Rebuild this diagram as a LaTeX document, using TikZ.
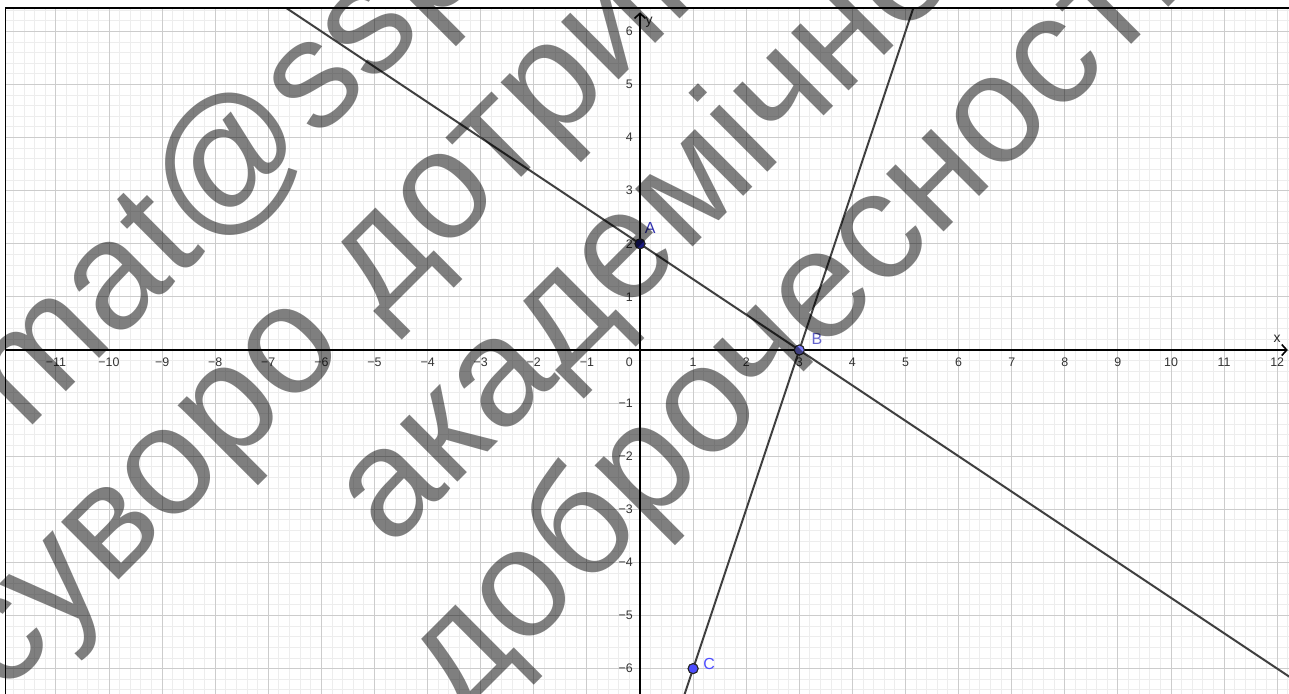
\documentclass[tikz,border=0pt]{standalone}
\usepackage{fontspec}
\setmainfont{Liberation Sans}
\newfontfamily\wmfont{Liberation Sans}
\usetikzlibrary{arrows.meta,calc}
\definecolor{Acol}{RGB}{28,28,128}
\definecolor{Bcol}{RGB}{125,125,255}
\definecolor{Ccol}{RGB}{77,77,255}
\definecolor{Alab}{RGB}{50,50,175}
\definecolor{Blab}{RGB}{100,100,205}
\definecolor{Clab}{RGB}{77,77,255}
\definecolor{linecol}{RGB}{64,64,64}
\begin{document}
\begin{tikzpicture}[x=0.5pt,y=-0.5pt,
  minorgrid/.style={draw=black!7, line width=0.5pt},
  majorgrid/.style={draw=black!20, line width=0.5pt},
  frameline/.style={draw=black, line width=0.9pt},
  axisline/.style={draw=black, line width=0.8pt, -{Straight Barb[length=2.5pt,width=5.5pt]}},
  gline/.style={draw=linecol, line width=1pt},
  xt/.style={font=\fontsize{6.2pt}{7pt}\selectfont, text=black!80, inner sep=0pt, anchor=center},
  yt/.style={font=\fontsize{6.2pt}{7pt}\selectfont, text=black!80, inner sep=0pt, anchor=east},
  axlab/.style={font=\fontsize{7pt}{8pt}\selectfont, text=black!85, inner sep=0pt},
  pt/.style={circle, draw=black!85, line width=0.5pt, minimum size=5pt, inner sep=0pt},
  ptlab/.style={font=\fontsize{8pt}{9pt}\selectfont, inner sep=0pt},
  wm/.style={font=\wmfont\fontsize{77pt}{80pt}\selectfont, text=black, text opacity=0.5,
             inner sep=0pt, rotate=45, anchor=base west}]
\useasboundingbox (0,0) rectangle (1289,693);
\clip (0,0) rectangle (1289,693);
\fill[white] (0,0) rectangle (1289,693);
\begin{scope}[shift={(640,350)}, x=26.55pt, y=26.55pt]
  \begin{scope}
    \clip (-11.95,-6.6) rectangle (12.4,6.435);
    \foreach \i in {-61,...,62} \draw[minorgrid] (\i/5,-6.6) -- (\i/5,6.6);
    \foreach \j in {-33,...,33} \draw[minorgrid] (-12.1,\j/5) -- (12.4,\j/5);
    \foreach \i in {-12,...,12} \draw[majorgrid] (\i,-6.6) -- (\i,6.6);
    \foreach \j in {-6,...,6} \draw[majorgrid] (-12.1,\j) -- (12.4,\j);
    \node[pt, fill=Acol] (A) at (0,2) {};
    \node[pt, fill=Bcol] (B) at (3,0) {};
    \node[pt, fill=Ccol] (C) at (1,-6) {};
    \draw[axisline] (-11.95,0) -- (12.2,0);
    \draw[axisline] (0,-6.6) -- (0,6.36);
    \draw[gline] ($(A.center)!-4.2!(B.center)$) -- ($(A.center)!4.3!(B.center)$);
    \draw[gline] ($(B.center)!1.2!(C.center)$) -- ($(C.center)!2.2!(B.center)$);
  \end{scope}
  \draw[frameline] (-11.95,-6.7) -- (-11.95,6.435) -- (12.4,6.435);
  \foreach \i in {1,...,11} \node[xt] at (-\i,-0.226) {−\i};
  \foreach \i in {1,...,12} \node[xt] at (\i,-0.226) {\i};
  \node[yt] at (-0.13,-0.226) {0};
  \foreach \j in {1,...,6} \node[yt] at (-0.13,\j) {\j};
  \foreach \j in {1,...,6} \node[yt] at (-0.13,-\j) {−\j};
  \node[axlab] at (12.0,0.21) {x};
  \node[axlab] at (0.17,6.18) {y};
  \node[pt, fill=Acol] at (A.center) {};
  \node[pt, fill=Bcol] at (B.center) {};
  \node[pt, fill=Ccol] at (C.center) {};
  \node[ptlab, text=Alab] (Alabel) at (0.19,2.30) {A};
  \node[ptlab, text=Blab] (Blabel) at (3.33,0.21) {B};
  \node[ptlab, text=Clab] (Clabel) at (1.30,-5.91) {C};
\end{scope}
\node[wm] (w1) at (25,433) {mat@ssp};
\node[wm] (w2) at (2,697) {суворо дотрим};
\node[wm] (w3) at (390,550) {академічно};
\node[wm] (w4) at (459,717) {доброчесності};
\end{tikzpicture}
\end{document}
